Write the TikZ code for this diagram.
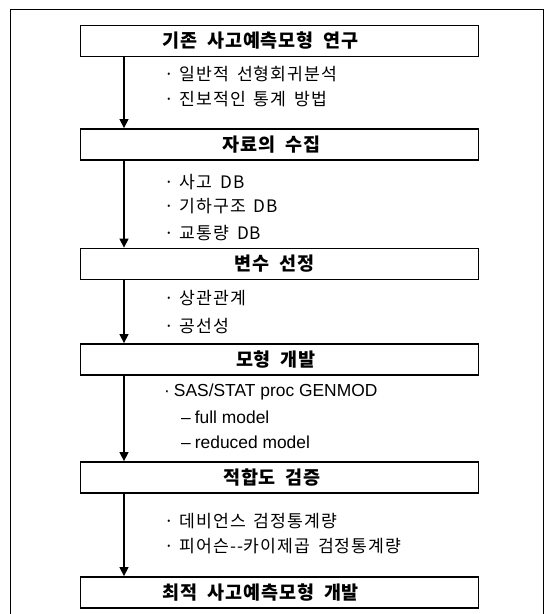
\documentclass[tikz,border=0pt]{standalone}
\usepackage{fontspec}
\usetikzlibrary{arrows.meta}
\newfontfamily\krt{Noto Sans CJK KR}[LetterSpace=4.5]
\newfontfamily\krb{Noto Sans CJK KR}[LetterSpace=5.5]
\newfontfamily\lat{Liberation Sans}
\newcommand\tgap{\hspace{10pt}}
\newcommand\bgap{\hspace{8pt}}
\begin{document}
\begin{tikzpicture}[x=1pt,y=-1pt,
  stagebox/.style={draw,line width=1.8pt,minimum width=398pt,minimum height=31pt,inner sep=0pt,
    font=\krt\bfseries\fontsize{18.5}{20}\selectfont},
  item/.style={anchor=west,inner sep=0pt,font=\krb\fontsize{17.2}{19}\selectfont},
  latitem/.style={anchor=west,inner sep=0pt,font=\lat\fontsize{17.4}{19}\selectfont},
  arr/.style={line width=1.3pt,-{Triangle[width=9pt,length=9pt]}}]
\useasboundingbox (0,0) rectangle (547,614);
\draw[line width=1pt] (10,616) -- (10,9) -- (543,9) -- (543,616);
\coordinate (ax) at (124,0);
\node[stagebox] (b1) at (279.5,41) {기존\tgap 사고예측모형\tgap 연구\hspace*{38pt}};
\node[stagebox] (b2) at (279.5,144.5) {자료의\tgap 수집\hspace*{16pt}};
\node[stagebox] (b3) at (279.5,264) {변수\tgap 선정\hspace*{10pt}};
\node[stagebox] (b4) at (279.5,359.5) {모형\tgap 개발\hspace*{7pt}};
\node[stagebox] (b5) at (279.5,477.5) {적합도\tgap 검증\hspace*{15pt}};
\node[stagebox] (b6) at (279.5,592.5) {최적\tgap 사고예측모형\tgap 개발\hspace*{37pt}};
\draw[arr] (b1.south -| ax) -- (b2.north -| ax);
\draw[arr] (b2.south -| ax) -- (b3.north -| ax);
\draw[arr] (b3.south -| ax) -- (b4.north -| ax);
\draw[arr] (b4.south -| ax) -- (b5.north -| ax);
\draw[arr] (b5.south -| ax) -- (b6.north -| ax);
\node[item] (t11) at (164,74) {·\hspace{6pt}일반적\bgap 선형회귀분석};
\node[item] (t12) at (164,99) {·\hspace{6pt}진보적인\bgap 통계\bgap 방법};
\node[item] (t21) at (164,182) {·\hspace{6pt}사고\bgap DB};
\node[item] (t22) at (164,206) {·\hspace{6pt}기하구조\bgap DB};
\node[item] (t23) at (164,233) {·\hspace{6pt}교통량\bgap DB};
\node[item] (t31) at (164,298) {·\hspace{6pt}상관관계};
\node[item] (t32) at (164,326) {·\hspace{6pt}공선성};
\node[latitem] (t41) at (164,392) {·\hspace{4pt}SAS/STAT proc GENMOD};
\node[latitem] (t42) at (181,417) {–\hspace{4pt}full model};
\node[latitem] (t43) at (181,442) {–\hspace{4pt}reduced model};
\node[item] (t51) at (164,521) {·\hspace{6pt}데비언스\bgap 검정통계량};
\node[item] (t52) at (164,546) {·\hspace{6pt}피어슨--카이제곱\bgap 검정통계량};
\end{tikzpicture}
\end{document}
